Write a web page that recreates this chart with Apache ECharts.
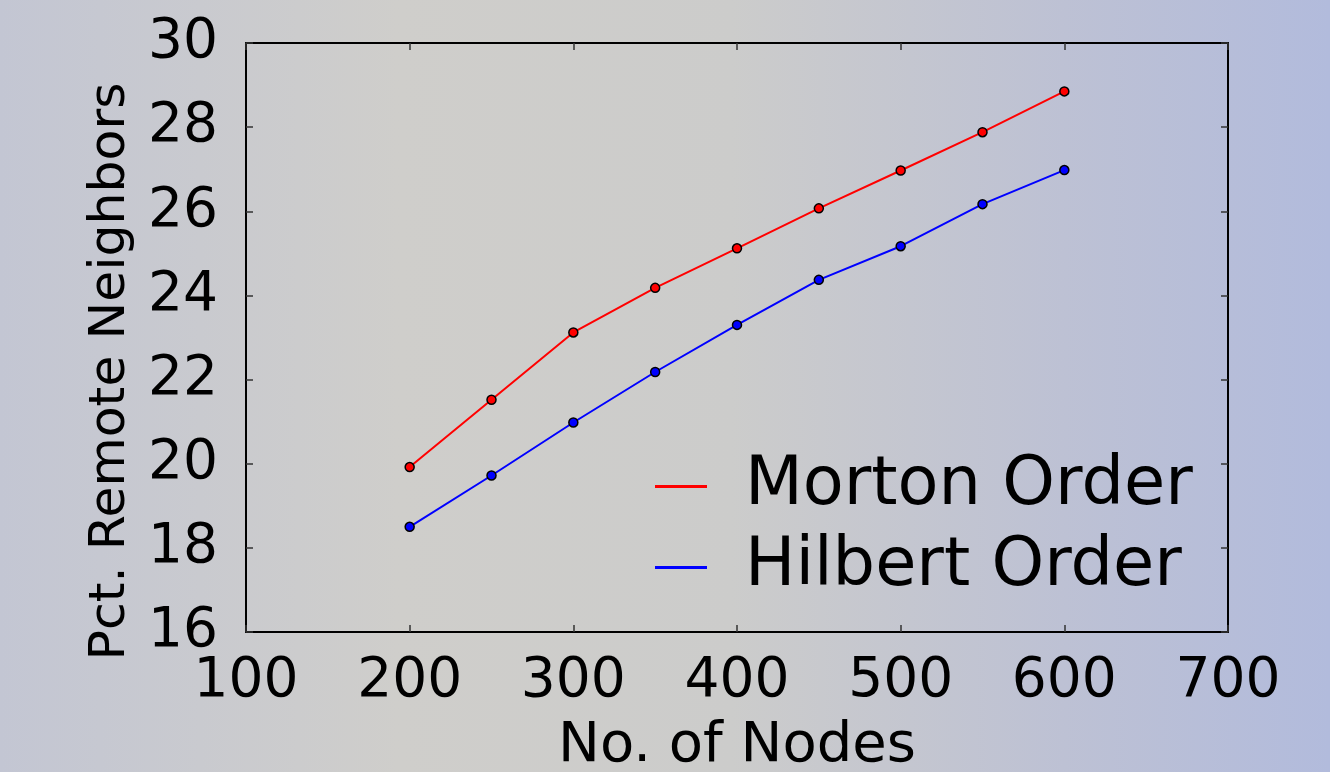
<!DOCTYPE html>
<html>
<head>
<meta charset="utf-8">
<script src="https://cdn.jsdelivr.net/npm/echarts@6/dist/echarts.min.js"></script>
<style>
html,body{margin:0;padding:0;}
#c{width:1330px;height:772px;background:linear-gradient(90deg,#c3c6d3 0%,#cfcecb 30%,#cccccb 55%,#bdc1d4 80%,#b2bbdc 100%);}
</style>
</head>
<body>
<div id="c"></div>
<script>
const nodes = [200, 250, 300, 350, 400, 450, 500, 550, 600];
const morton = [19.92, 21.52, 23.12, 24.18, 25.12, 26.07, 26.97, 27.88, 28.85];
const hilbert = [18.5, 19.72, 20.98, 22.18, 23.3, 24.37, 25.17, 26.17, 26.98];
const seriesNames = ['Morton Order', 'Hilbert Order'];
const xTitle = 'No. of Nodes';
const yTitle = 'Pct. Remote Neighbors';

const font = 'DejaVu Sans';
const chart = echarts.init(document.getElementById('c'), null, {renderer: 'canvas'});
const pair = (vals) => nodes.map((n, i) => [n, vals[i]]);
const tickStyle = {show: true, inside: true, length: 7, lineStyle: {color: '#333', width: 1.5}};
const lineAxis = {show: true, onZero: false, lineStyle: {color: '#000', width: 2}};
chart.setOption({
  backgroundColor: 'transparent',
  animation: false,
  grid: {left: 246, right: 102, top: 43, bottom: 140, containLabel: false, outerBoundsMode: 'none'},
  legend: {
    orient: 'vertical', left: 650, top: 448, itemGap: 14,
    itemWidth: 52, itemHeight: 3, icon: 'rect',
    itemStyle: {borderWidth: 0},
    textStyle: {fontFamily: font, fontSize: 67, color: '#000', padding: [0, 0, 0, 33]},
    data: seriesNames
  },
  xAxis: [{
    type: 'value', min: 100, max: 700, interval: 100, position: 'bottom',
    name: xTitle, nameLocation: 'middle', nameGap: 86,
    nameTextStyle: {fontFamily: font, fontSize: 56, color: '#000'},
    axisLine: lineAxis, axisTick: tickStyle, splitLine: {show: false},
    axisLabel: {fontFamily: font, fontSize: 55, color: '#000', margin: 22}
  }, {
    type: 'value', min: 100, max: 700, interval: 100, position: 'top',
    axisLine: lineAxis, axisTick: tickStyle, splitLine: {show: false},
    axisLabel: {show: false}
  }],
  yAxis: [{
    type: 'value', min: 16, max: 30, interval: 2, position: 'left',
    name: yTitle, nameLocation: 'middle', nameGap: 110, nameRotate: 90,
    nameTextStyle: {fontFamily: font, fontSize: 50.5, color: '#000', padding: [0, 68, 0, 0]},
    axisLine: lineAxis, axisTick: tickStyle, splitLine: {show: false},
    axisLabel: {fontFamily: font, fontSize: 55, color: '#000', margin: 28}
  }, {
    type: 'value', min: 16, max: 30, interval: 2, position: 'right',
    axisLine: lineAxis, axisTick: tickStyle, splitLine: {show: false},
    axisLabel: {show: false}
  }],
  series: [{
    name: seriesNames[0], type: 'line', data: pair(morton),
    symbol: 'circle', symbolSize: 9,
    lineStyle: {color: '#ff0000', width: 2},
    itemStyle: {color: '#ff0000', borderColor: '#000', borderWidth: 1.5}
  }, {
    name: seriesNames[1], type: 'line', data: pair(hilbert),
    symbol: 'circle', symbolSize: 9,
    lineStyle: {color: '#0000ff', width: 2},
    itemStyle: {color: '#0000ff', borderColor: '#000', borderWidth: 1.5}
  }]
});
</script>
</body>
</html>
